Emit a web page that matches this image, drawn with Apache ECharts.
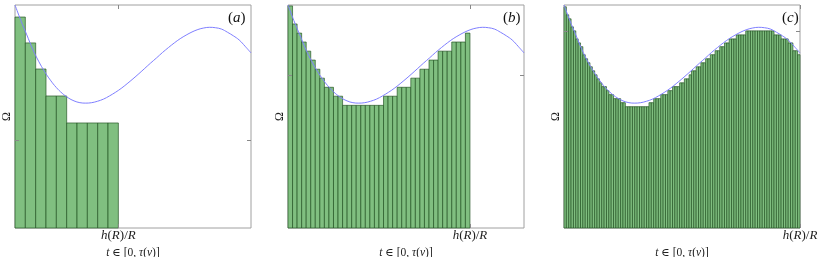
<!DOCTYPE html>
<html>
<head>
<meta charset="utf-8">
<script src="https://cdn.jsdelivr.net/npm/echarts@6/dist/echarts.min.js"></script>
<style>
html,body{margin:0;padding:0;background:#fff;}
#chart{width:831px;height:257px;}
</style>
</head>
<body>
<div id="chart"></div>
<script>
// ---- data ----
const panelLabels = ['a', 'b', 'c'];
const hOverR = [0.438, 0.771, 1.0];          // x position of h(R)/R in each panel
const yTickValues = [0.395, 0.685, 0.883];   // the single y tick in each panel

const curveT = [0,0.025,0.05,0.075,0.1,0.125,0.15,0.175,0.2,0.225,0.25,0.275,0.3,0.325,0.35,0.375,0.4,0.425,0.45,0.475,0.5,0.525,0.55,0.575,0.6,0.625,0.65,0.675,0.7,0.725,0.75,0.775,0.8,0.825,0.85,0.875,0.9,0.925,0.95,0.975,1.0];
const curveOmega = [1.000,0.930,0.866,0.802,0.748,0.702,0.663,0.630,0.604,0.584,0.570,0.562,0.560,0.562,0.5685,0.578,0.592,0.608,0.626,0.647,0.669,0.692,0.716,0.740,0.763,0.787,0.809,0.830,0.849,0.865,0.879,0.890,0.897,0.900,0.898,0.892,0.878,0.862,0.843,0.815,0.785];

const barsA = [0.946,0.830,0.713,0.592,0.592,0.471,0.471,0.471,0.471,0.471];
const barsB = [0.996,0.915,0.874,0.834,0.793,0.753,0.712,0.672,0.631,0.631,
               0.591,0.591,0.550,0.550,0.550,0.550,0.550,0.550,0.550,0.550,
               0.550,0.591,0.591,0.591,0.631,0.631,0.631,0.672,0.672,0.712,
               0.712,0.753,0.753,0.793,0.793,0.793,0.834,0.834,0.834,0.874];
const barsC = [0.992,0.956,0.938,0.902,0.884,0.848,0.830,0.813,0.777,0.759,
               0.741,0.723,0.705,0.687,0.669,0.651,0.634,0.634,0.616,0.598,
               0.598,0.580,0.580,0.580,0.562,0.562,0.544,0.544,0.544,0.544,
               0.544,0.544,0.544,0.544,0.544,0.544,0.562,0.562,0.580,0.580,
               0.580,0.598,0.598,0.598,0.616,0.616,0.634,0.634,0.634,0.651,
               0.651,0.669,0.669,0.687,0.705,0.705,0.723,0.723,0.741,0.741,
               0.759,0.759,0.777,0.777,0.795,0.795,0.813,0.813,0.830,0.830,
               0.848,0.848,0.848,0.866,0.866,0.866,0.866,0.884,0.884,0.884,
               0.884,0.884,0.884,0.884,0.884,0.884,0.884,0.884,0.884,0.866,
               0.866,0.866,0.848,0.848,0.848,0.830,0.830,0.795,0.795,0.777];
const barSets = [barsA, barsB, barsC];

// ---- layout / style ----
const gridLefts = [15, 288, 564];
const gridWidth = 236;
const gridTop = 5;
const gridHeight = 223;
const labelLefts = [228, 503, 782];
const serif = 'Liberation Serif, DejaVu Serif, serif';
const frameColor = '#a0a0a0';

function rich(size, color) {
  return {
    i: {fontFamily: serif, fontStyle: 'italic', fontWeight: 'normal', fontSize: size, color: color, lineHeight: size + 2},
    p: {fontFamily: serif, fontStyle: 'normal', fontWeight: 'normal', fontSize: size, color: color, lineHeight: size + 2}
  };
}

const grids = [], xAxes = [], yAxes = [], series = [], titles = [];
const curveData = curveT.map((t, k) => [t, curveOmega[k]]);
const noLine = {show: false, onZero: false};

for (let p = 0; p < 3; p++) {
  grids.push({left: gridLefts[p], top: gridTop, width: gridWidth, height: gridHeight,
    containLabel: false, outerBoundsMode: 'none',
    show: true, borderColor: frameColor, borderWidth: 1, backgroundColor: 'transparent'});
  const tick = (vals) => ({show: true, inside: true, length: 4, customValues: vals,
    lineStyle: {color: '#888', width: 1}});
  xAxes.push({gridIndex: p, type: 'value', min: 0, max: 1, position: 'bottom', z: 10,
    axisLine: noLine, splitLine: {show: false},
    axisTick: tick([hOverR[p]]),
    axisLabel: {show: true, customValues: [hOverR[p]], showMaxLabel: true, showMinLabel: true,
      margin: 8, verticalAlign: 'middle',
      formatter: () => '{i|h}{p|(}{i|R}{p|)/}{i|R}', rich: rich(13, '#222')},
    name: '{i|t}{p| ∈ [0, }{i|τ}{p|(}{i|v}{p|)]}', nameLocation: 'middle', nameGap: 18,
    nameTextStyle: {verticalAlign: 'middle', rich: rich(11.5, '#222')}
  });
  xAxes.push({gridIndex: p, type: 'value', min: 0, max: 1, position: 'top', z: 10,
    axisLine: noLine, splitLine: {show: false},
    axisTick: tick([hOverR[p]]),
    axisLabel: {show: false}
  });
  yAxes.push({gridIndex: p, type: 'value', min: 0, max: 1, position: 'left', z: 10,
    axisLine: noLine, splitLine: {show: false},
    axisTick: tick([yTickValues[p]]),
    axisLabel: {show: false},
    name: 'Ω', nameLocation: 'middle', nameGap: 8, nameRotate: 90,
    nameTextStyle: {fontFamily: serif, fontSize: 12, color: '#222', verticalAlign: 'middle'}
  });
  yAxes.push({gridIndex: p, type: 'value', min: 0, max: 1, position: 'right', z: 10,
    axisLine: noLine, splitLine: {show: false},
    axisTick: tick([yTickValues[p]]),
    axisLabel: {show: false}
  });

  const bars = barSets[p];
  const w = hOverR[p] / bars.length;
  const barData = bars.map((h, i) => [i * w, (i + 1) * w, h]);
  series.push({
    type: 'custom', xAxisIndex: 2 * p, yAxisIndex: 2 * p,
    encode: {x: [0, 1], y: 2},
    data: barData, z: 2, silent: true,
    renderItem: function (params, api) {
      const a = api.coord([api.value(0), api.value(2)]);
      const b = api.coord([api.value(1), 0]);
      return {type: 'rect',
        shape: {x: a[0], y: a[1], width: b[0] - a[0], height: b[1] - a[1]},
        style: {fill: '#80bf80', stroke: 'rgba(30,80,30,0.65)', lineWidth: 1}};
    }
  });
  series.push({
    type: 'line', xAxisIndex: 2 * p, yAxisIndex: 2 * p,
    data: curveData, smooth: 0.4, showSymbol: false, symbol: 'none', z: 5,
    lineStyle: {color: '#7f7fff', width: 1}, silent: true
  });
  titles.push({text: '{p|(}{i|' + panelLabels[p] + '}{p|)}', left: labelLefts[p], top: 10,
    padding: 0, textStyle: {fontWeight: 'normal', rich: rich(15, '#111')}});
}

const chart = echarts.init(document.getElementById('chart'), null, {renderer: 'canvas'});
chart.setOption({
  animation: false,
  backgroundColor: '#fff',
  title: titles,
  grid: grids,
  xAxis: xAxes,
  yAxis: yAxes,
  series: series
});
</script>
</body>
</html>
